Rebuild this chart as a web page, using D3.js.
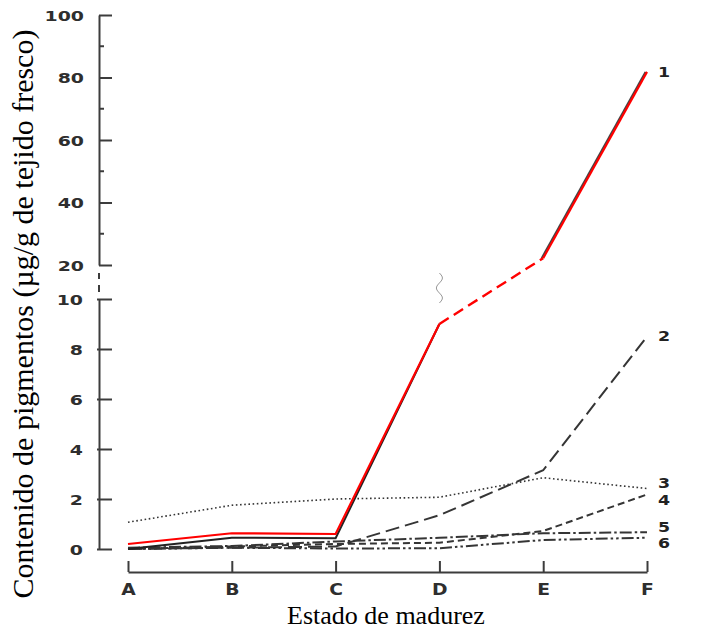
<!DOCTYPE html>
<html><head><meta charset="utf-8">
<script src="https://cdn.jsdelivr.net/npm/d3@7"></script>
<style>html,body{margin:0;padding:0;background:#fff;}svg{display:block;}</style>
</head><body>
<script>
const categories = ["A","B","C","D","E","F"];
const series1Red   = [0.2, 0.63, 0.6, 9.0, 22.2, 81.8];
const series1Black = [0.0, 0.45, 0.43, 9.0, 22.2, 81.8];
const series2 = [0.0, 0.05, 0.1, 1.35, 3.15, 8.5];
const series3 = [1.07, 1.75, 2.0, 2.07, 2.85, 2.42];
const series4 = [0.0, 0.1, 0.2, 0.25, 0.72, 2.18];
const series5 = [0.05, 0.12, 0.3, 0.45, 0.63, 0.67];
const series6 = [0.0, 0.05, 0.02, 0.03, 0.36, 0.45];
const seriesNames = ["1","2","3","4","5","6"];
const yTicksLow = [0,2,4,6,8,10];
const yTicksHigh = [20,40,60,80,100];
const yMinorHigh = [30,50,70,90];
const yTitle = "Contenido de pigmentos (µg/g de tejido fresco)";
const xTitle = "Estado de madurez";

const W = 722, H = 630;
const svg = d3.select("body").append("svg").attr("width", W).attr("height", H);

const x = d3.scalePoint().domain(categories).range([128, 647]);
const yLow = d3.scaleLinear().domain([0, 10]).range([549, 299]);
const yHigh = d3.scaleLinear().domain([20, 100]).range([265, 15]);
const y = v => v <= 10 ? yLow(v) : yHigh(v);
const axisX = 99;
const axisColor = "#3c3c3c";
const tickFont = "'DejaVu Sans', sans-serif";

function styleY(g, dx) {
  g.selectAll("text").attr("x", null).attr("dy", "0.38em")
    .attr("text-anchor", "end")
    .attr("transform", `translate(${dx},0) scale(1.35,1)`)
    .attr("font-family", tickFont).attr("font-weight", "bold").attr("font-size", 14).attr("fill", "#2e2e2e");
}

// Upper y axis
const gHigh = svg.append("g").attr("transform", `translate(${axisX},0)`)
  .call(d3.axisLeft(yHigh).tickValues(yTicksHigh).tickSize(-13).tickSizeOuter(0));
styleY(gHigh, -15);
gHigh.append("g").selectAll("line").data(yMinorHigh).join("line")
  .attr("x1", 0).attr("x2", 5).attr("y1", d => yHigh(d)).attr("y2", d => yHigh(d));

// Lower y axis
const gLow = svg.append("g").attr("transform", `translate(${axisX},0)`)
  .call(d3.axisLeft(yLow).tickValues(yTicksLow).tickSize(-13).tickSizeOuter(0));
styleY(gLow, -16);
gLow.selectAll(".tick line").attr("x1", -2);

// break marks on axis
svg.append("g").selectAll("line").data([[273, 279], [285, 292]]).join("line")
  .attr("x1", axisX).attr("x2", axisX).attr("y1", d => d[0]).attr("y2", d => d[1]);

// X axis
const gx = svg.append("g").attr("transform", "translate(0,572)")
  .call(d3.axisBottom(x).tickSize(-11).tickSizeOuter(0));
gx.selectAll("text").attr("y", null).attr("dy", null)
  .attr("text-anchor", "middle")
  .attr("transform", "translate(0,23) scale(1.25,1)")
  .attr("font-family", tickFont).attr("font-weight", "bold").attr("font-size", 15).attr("fill", "#2e2e2e");

svg.selectAll(".domain, .tick line, g > line").attr("stroke", axisColor).attr("stroke-width", 2);
svg.selectAll("path.domain").attr("fill", "none");

// Lines
const lineGen = d3.line().x(d => x(d.c)).y(d => y(d.v));
const toPts = arr => arr.map((v, i) => ({c: categories[i], v}));
const lines = svg.append("g").attr("fill", "none");

const dark = "#353535";
const styles = [
  {data: series2, dash: "14,6", w: 2},
  {data: series3, dash: "1.6,2.6", w: 1.6},
  {data: series4, dash: "7,4", w: 2},
  {data: series5, dash: "12,3,2.5,3", w: 2},
  {data: series6, dash: "12,3,2.5,3,2.5,3", w: 2}
];
styles.forEach(s => {
  lines.append("path").attr("d", lineGen(toPts(s.data)))
    .attr("stroke", dark).attr("stroke-width", s.w).attr("stroke-dasharray", s.dash);
});

// Series 1 black original under the red overlay
const p1b = toPts(series1Black);
lines.append("path").attr("d", lineGen(p1b.slice(0, 4)))
  .attr("stroke", "#222").attr("stroke-width", 2);
lines.append("path").attr("d", lineGen(p1b.slice(4, 6)))
  .attr("stroke", "#444").attr("stroke-width", 2).attr("transform", "translate(-1.5,0)");

// Red series 1
const p1 = toPts(series1Red);
lines.append("path").attr("d", lineGen(p1.slice(0, 4))).attr("stroke", "#ff0000").attr("stroke-width", 2.2);
lines.append("path").attr("d", lineGen(p1.slice(3, 5))).attr("stroke", "#ff0000").attr("stroke-width", 2.4).attr("stroke-dasharray", "11,6");
lines.append("path").attr("d", lineGen(p1.slice(4, 6))).attr("stroke", "#ff0000").attr("stroke-width", 2.2);

// squiggle at D (break indicator)
const sq = d3.range(0, 31).map(i => [x("D") + 3 * Math.sin(i / 30 * Math.PI * 3), 273 + i]);
svg.append("path").attr("d", d3.line()(sq)).attr("fill", "none").attr("stroke", "#999").attr("stroke-width", 1);

// Series labels
const lastVals = [series1Red[5], series2[5], series3[5], series4[5], series5[5], series6[5]];
const labelOffsets = [0, -1, -6, 5, -6, 5];
svg.append("g").selectAll("text").data(seriesNames).join("text")
  .attr("transform", (d, i) => `translate(${x("F") + 11},${y(lastVals[i]) + labelOffsets[i]}) scale(1.2,1)`)
  .attr("dy", "0.37em")
  .attr("font-family", tickFont).attr("font-weight", "bold").attr("font-size", 14.5).attr("fill", "#222")
  .text(d => d);

// Titles
svg.append("text")
  .attr("transform", "translate(33,314) rotate(-90)")
  .attr("text-anchor", "middle")
  .attr("font-family", "'Liberation Serif', 'Times New Roman', serif")
  .attr("font-size", 30).attr("fill", "#000")
  .text(yTitle);
svg.append("text")
  .attr("x", 386).attr("y", 624)
  .attr("text-anchor", "middle")
  .attr("font-family", "'Liberation Serif', 'Times New Roman', serif")
  .attr("font-size", 26).attr("fill", "#000")
  .text(xTitle);
</script>
</body></html>
